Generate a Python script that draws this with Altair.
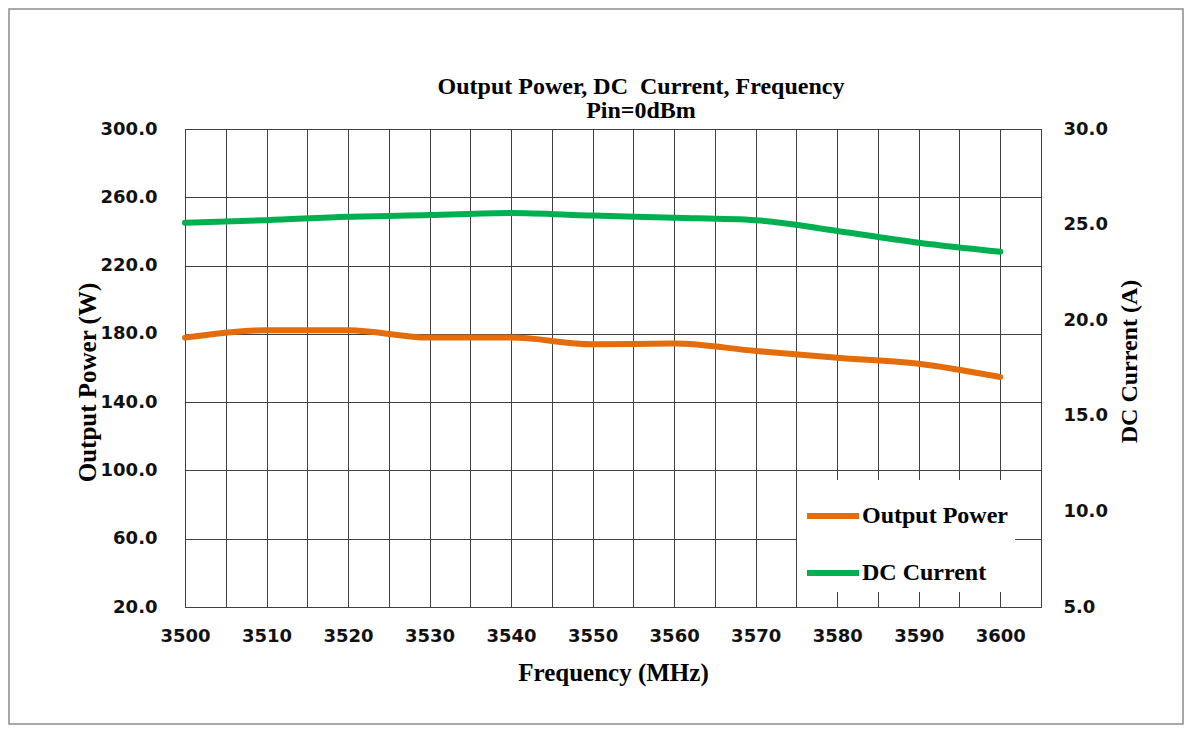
import altair as alt
import pandas as pd

# ---- data ----
freq = [3500, 3510, 3520, 3530, 3540, 3550, 3560, 3570, 3580, 3590, 3600]
output_power = [177.8, 182.1, 182.1, 177.8, 177.8, 173.9, 174.3, 170.0, 166.0, 162.5, 154.7]
dc_current = [25.10, 25.23, 25.41, 25.50, 25.61, 25.47, 25.36, 25.23, 24.67, 24.05, 23.58]

series_names = ["Output Power", "DC Current"]
series_colors = ["#E46C0A", "#00B050"]

x_grid = list(range(3500, 3606, 5))
left_ticks = [20, 60, 100, 140, 180, 220, 260, 300]
right_ticks = [5, 10, 15, 20, 25, 30]

title_lines = ["Output Power, DC\u00a0 Current, Frequency", "Pin=0dBm"]

df_p = pd.DataFrame({"freq": freq, "value": output_power, "series": series_names[0]})
df_c = pd.DataFrame({"freq": freq, "value": dc_current, "series": series_names[1]})
df_one = pd.DataFrame({"a": [0]})

LABEL_FONT = "DejaVu Sans"
TITLE_FONT = "Liberation Serif"
GRID = "#404040"

x_enc = alt.X(
    "freq:Q",
    scale=alt.Scale(domain=[3500, 3605], nice=False, zero=False),
    axis=alt.Axis(
        values=x_grid,
        labelExpr="datum.value % 10 == 0 ? format(datum.value, 'd') : ''",
        title="Frequency (MHz)",
        grid=True,
        gridColor=GRID,
        gridOpacity=1,
        gridWidth=1,
        domain=False,
        ticks=False,
        tickSize=0,
        labelFont=LABEL_FONT,
        labelFontSize=18,
        labelFontWeight="bold",
        labelColor="#111111",
        labelPadding=20,
        labelFlush=False,
        labelOverlap=False,
        titleFont=TITLE_FONT,
        titleFontSize=25,
        titleFontWeight="bold",
        titleColor="#000000",
        titlePadding=15,
    ),
)

color_enc = alt.Color(
    "series:N",
    scale=alt.Scale(domain=series_names, range=series_colors),
    sort=series_names,
    legend=alt.Legend(
        title=None,
        orient="none",
        legendX=612,
        legendY=351,
        fillColor="white",
        padding=7,
        symbolType="stroke",
        symbolSize=2704,
        symbolStrokeWidth=6,
        labelFont=TITLE_FONT,
        labelFontSize=24,
        labelFontWeight="bold",
        labelColor="#000000",
        labelOffset=0,
        rowPadding=16,
    ),
)

power = alt.Chart(df_p).mark_line(strokeWidth=6, interpolate="monotone", strokeCap="round").encode(
    x=x_enc,
    y=alt.Y(
        "value:Q",
        scale=alt.Scale(domain=[20, 300], nice=False, zero=False),
        axis=alt.Axis(
            orient="left",
            values=left_ticks,
            format=".1f",
            title="Output Power (W)",
            grid=True,
            gridColor=GRID,
            gridOpacity=1,
            gridWidth=1,
            domain=False,
            ticks=False,
            tickSize=0,
            labelFont=LABEL_FONT,
            labelFontSize=18,
            labelFontWeight="bold",
            labelColor="#111111",
            labelPadding=28,
            titleFont=TITLE_FONT,
            titleFontSize=25,
            titleFontWeight="bold",
            titleColor="#000000",
            titlePadding=0,
            titleY=253,
        ),
    ),
    color=color_enc,
)

current = alt.Chart(df_c).mark_line(strokeWidth=6, interpolate="monotone", strokeCap="round").encode(
    x=x_enc,
    y=alt.Y(
        "value:Q",
        scale=alt.Scale(domain=[5, 30], nice=False, zero=False),
        axis=alt.Axis(
            orient="right",
            values=right_ticks,
            format=".1f",
            title="DC Current (A)",
            titleAngle=-90,
            titleBaseline="top",
            grid=False,
            domain=False,
            ticks=False,
            tickSize=0,
            labelFont=LABEL_FONT,
            labelFontSize=18,
            labelFontWeight="bold",
            labelColor="#111111",
            labelPadding=22,
            titleFont=TITLE_FONT,
            titleFontSize=24,
            titleFontWeight="bold",
            titleColor="#000000",
            titlePadding=10,
            titleY=232,
        ),
    ),
    color=color_enc,
)

frame = alt.Chart(df_one).mark_rect(fill="white", fillOpacity=0, stroke="#8c8c8c", strokeWidth=1.5).encode(
    x=alt.value(-176),
    x2=alt.value(998),
    y=alt.value(-120),
    y2=alt.value(595),
)

title_style = dict(font=TITLE_FONT, fontSize=24, fontWeight="bold", color="#000000",
                   align="center", baseline="alphabetic")
title1 = alt.Chart(df_one).mark_text(**title_style).encode(
    text=alt.value(title_lines[0]), x=alt.value(456), y=alt.value(-35)
)
title2 = alt.Chart(df_one).mark_text(**title_style).encode(
    text=alt.value(title_lines[1]), x=alt.value(456), y=alt.value(-11)
)

chart = (
    alt.layer(frame, title1, title2, power, current)
    .resolve_scale(y="independent")
    .properties(width=856, height=478, padding=0, background="white")
    .configure_view(stroke=GRID, strokeWidth=1)
)

chart.save("out.html", embed_options={"renderer": "svg", "actions": False})
